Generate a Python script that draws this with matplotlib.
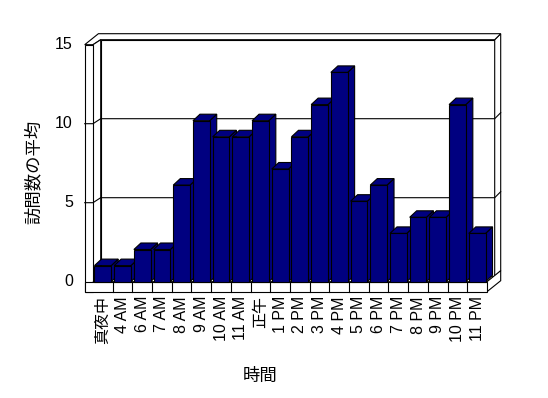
import matplotlib
matplotlib.use("Agg")
import matplotlib.pyplot as plt
from matplotlib.patches import Polygon, Rectangle

# データ
labels = ['真夜中', '4 AM', '6 AM', '7 AM', '8 AM', '9 AM', '10 AM', '11 AM',
          '正午', '1 PM', '2 PM', '3 PM', '4 PM', '5 PM', '6 PM', '7 PM',
          '8 PM', '9 PM', '10 PM', '11 PM']
values = [1, 1, 2, 2, 6, 10, 9, 9, 10, 7, 9, 11, 13, 5, 6, 3, 4, 4, 11, 3]
yticks = [0, 5, 10, 15]

FONT = ['Liberation Sans', 'Noto Sans CJK JP']
NAVY = '#000080'
LW = 0.8

# ピクセル -> データ変換の目安
W, H = 548, 398
X0, CELL = 93.0, 19.7      # 左端のピクセル, 1カテゴリ幅
Y0, UNIT = 281.7, 16.1     # 0 のピクセル, 1単位の高さ
k = 15.8 / UNIT            # 壁側の目盛りスケール

def px2x(p):
    return (p - X0) / CELL - 0.5

def py2v(p):
    return (Y0 - p) / UNIT

fig = plt.figure(figsize=(W / 100, H / 100), dpi=100)
ax = fig.add_axes([0, 0, 1, 1])
ax.set_xlim(px2x(0), px2x(W))
ax.set_ylim(py2v(H), py2v(0))
ax.axis('off')

n = len(values)
xl, xr = -0.5, n - 0.5
top = max(yticks) * k
Dx, Dy = 7.7 / CELL, 5.0 / UNIT     # 奥行き
Tx, Ty = 6.0 / CELL, 6.0 / UNIT     # 壁の厚み
LWALL = 8.3 / CELL
FL = 10.0 / UNIT

def poly(pts, z=1, fc='white'):
    ax.add_patch(Polygon(pts, closed=True, fc=fc, ec='black', lw=LW, zorder=z))

# 奥の壁
poly([(xl + Dx, Dy), (xr + Dx, Dy), (xr + Dx, top + Dy), (xl + Dx, top + Dy)])
poly([(xr + Dx, Dy), (xr + Dx + Tx, Dy + Ty), (xr + Dx + Tx, top + Dy + Ty), (xr + Dx, top + Dy)])
# 上面
poly([(xl - LWALL, top), (xl, top), (xl + Dx, top + Dy), (xr + Dx, top + Dy),
      (xr + Dx + Tx, top + Dy + Ty), (xl - LWALL + Dx + Tx, top + Dy + Ty)])
# 左の壁
poly([(xl, 0), (xl + Dx, Dy), (xl + Dx, top + Dy), (xl, top)])
ax.add_patch(Rectangle((xl - LWALL, -FL), LWALL, top + FL, fc='white', ec='black', lw=LW, zorder=1))
# 床
poly([(xl, 0), (xr, 0), (xr + Dx, Dy), (xl + Dx, Dy)])
poly([(xr, -FL), (xr, 0), (xr + Dx + Tx, Dy + Ty), (xr + Dx + Tx, Dy + Ty - FL)])
ax.add_patch(Rectangle((xl - LWALL, -FL), xr - xl + LWALL, FL, fc='white', ec='black', lw=LW, zorder=1))
for i in range(1, n):
    ax.plot([xl + i, xl + i], [-FL, 0], color='black', lw=LW, zorder=1.5)

# 目盛り線
for t in yticks[1:-1]:
    v = t * k
    ax.plot([xl - LWALL, xl, xl + Dx, xr + Dx, xr + Dx + Tx],
            [v, v, v + Dy, v + Dy, v + Dy + Ty], color='black', lw=LW, zorder=1.5)

# 棒
bw = 0.85
bdx, bdy = 7.0 / CELL, 6.5 / UNIT
bars = ax.bar(range(n), values, width=bw, color=NAVY, edgecolor='black', linewidth=LW)
for i, (b, v) in enumerate(zip(bars, values)):
    l = b.get_x()
    r = l + bw
    z = 3 + i
    poly([(r, 0), (r + bdx, bdy), (r + bdx, v + bdy), (r, v)], z=z, fc=NAVY)
    poly([(l, v), (r, v), (r + bdx, v + bdy), (l + bdx, v + bdy)], z=z, fc=NAVY)
    b.set_zorder(z + 0.5)

# 軸ラベル
for t in yticks:
    ax.text(px2x(73), t * k, str(t), ha='right', va='center', fontsize=11.5, family=FONT)
for i, lab in enumerate(labels):
    ax.text(i, py2v(296), lab, rotation=90, ha='center', va='top', fontsize=11.5, family=FONT)

ax.text(px2x(33), py2v(172), '訪問数の平均', rotation=90, ha='center', va='center',
        fontsize=12.5, family=FONT)
ax.text(px2x(260), py2v(376), '時間', ha='center', va='center', fontsize=12.5, family=FONT)

fig.savefig('out.png', dpi=100)
